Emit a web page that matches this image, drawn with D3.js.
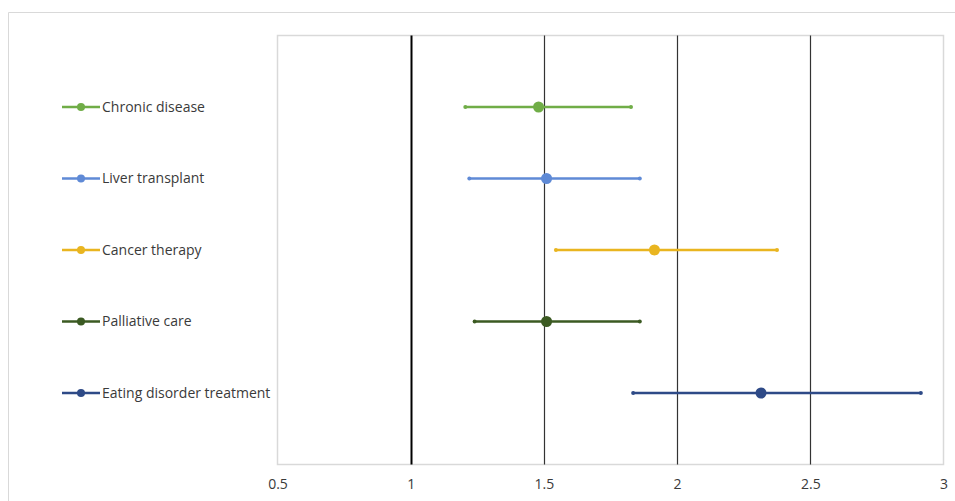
<!DOCTYPE html>
<html>
<head>
<meta charset="utf-8">
<script src="https://cdn.jsdelivr.net/npm/d3@7"></script>
<style>
  body { margin: 0; background: #fff; }
  svg { display: block; font-family: "Open Sans", sans-serif; }
</style>
</head>
<body>
<svg width="955" height="501"></svg>
<script>
const categories = ['Chronic disease', 'Liver transplant', 'Cancer therapy', 'Palliative care', 'Eating disorder treatment'];
const estimates = [1.48, 1.51, 1.915, 1.51, 2.315];
const lower = [1.205, 1.22, 1.545, 1.24, 1.835];
const upper = [1.827, 1.86, 2.375, 1.86, 2.915];
const colors = ['#70ad47', '#5f8ad6', '#e9b520', '#3b5a22', '#2e4a87'];
const xTicks = [0.5, 1, 1.5, 2, 2.5, 3];

const svg = d3.select('svg');

const plot = { left: 277.5, right: 943.5, top: 35.5, bottom: 464.5 };

const x = d3.scaleLinear().domain([0.5, 3]).range([plot.left, plot.right]);
const y = d3.scalePoint().domain(categories).range([plot.top, plot.bottom]).padding(1);

// outer frame
svg.append('path')
    .attr('d', 'M8.5,501 V12.5 H955')
    .attr('fill', 'none')
    .attr('stroke', '#d9d9d9')
    .attr('stroke-width', 1);

// plot border
svg.append('rect')
    .attr('x', plot.left)
    .attr('y', plot.top)
    .attr('width', plot.right - plot.left)
    .attr('height', plot.bottom - plot.top)
    .attr('fill', 'none')
    .attr('stroke', '#d9d9d9')
    .attr('stroke-width', 1.5);

// vertical grid lines
svg.append('g').selectAll('line')
    .data(xTicks.filter(d => d > 0.5 && d < 3))
    .enter().append('line')
    .attr('x1', d => Math.round(x(d)) + 0.5)
    .attr('x2', d => Math.round(x(d)) + 0.5)
    .attr('y1', plot.top)
    .attr('y2', plot.bottom)
    .attr('stroke', d => d === 1 ? '#000' : '#333')
    .attr('stroke-width', d => d === 1 ? 2 : 1.2);

// x axis labels
const xAxis = d3.axisBottom(x).tickValues(xTicks).tickFormat(d3.format('')).tickSize(0).tickPadding(15);
const ax = svg.append('g')
    .attr('transform', `translate(0,${plot.bottom})`)
    .call(xAxis);
ax.select('.domain').remove();
ax.selectAll('text')
    .attr('fill', '#3a3a3a')
    .attr('font-size', 14)
    .attr('font-family', '"Open Sans", sans-serif');

// error bars
const rows = categories.map((c, i) => ({ c, est: estimates[i], lo: lower[i], hi: upper[i], color: colors[i] }));

const g = svg.append('g');
g.selectAll('line.ci').data(rows)
    .enter().append('line')
    .attr('class', 'ci')
    .attr('x1', d => x(d.lo))
    .attr('x2', d => x(d.hi))
    .attr('y1', d => y(d.c))
    .attr('y2', d => y(d.c))
    .attr('stroke', d => d.color)
    .attr('stroke-width', 2.5);

g.selectAll('circle.lo').data(rows)
    .enter().append('circle')
    .attr('cx', d => x(d.lo))
    .attr('cy', d => y(d.c))
    .attr('r', 2)
    .attr('fill', d => d.color);

g.selectAll('circle.hi').data(rows)
    .enter().append('circle')
    .attr('cx', d => x(d.hi))
    .attr('cy', d => y(d.c))
    .attr('r', 2)
    .attr('fill', d => d.color);

g.selectAll('circle.est').data(rows)
    .enter().append('circle')
    .attr('cx', d => x(d.est))
    .attr('cy', d => y(d.c))
    .attr('r', 5.5)
    .attr('fill', d => d.color);

// legend
const legend = svg.append('g').selectAll('g').data(rows)
    .enter().append('g')
    .attr('transform', d => `translate(0,${y(d.c)})`);

legend.append('line')
    .attr('x1', 62).attr('x2', 100)
    .attr('stroke', d => d.color)
    .attr('stroke-width', 2.5);

legend.append('circle')
    .attr('cx', 81)
    .attr('r', 4)
    .attr('fill', d => d.color);

legend.append('text')
    .attr('x', 102)
    .attr('dy', '0.35em')
    .attr('font-size', 14)
    .attr('fill', '#3a3a3a')
    .text(d => d.c);
</script>
</body>
</html>
